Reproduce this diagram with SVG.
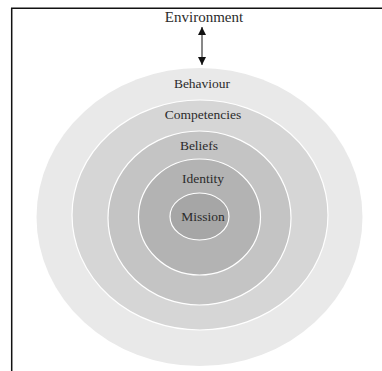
<svg xmlns="http://www.w3.org/2000/svg" width="382" height="371" viewBox="0 0 382 371">
<style>
.lbl{font-family:"Liberation Serif","Times New Roman",serif;font-size:13.5px;fill:#2b2b2b;text-anchor:middle}
.ring{stroke:#ffffff;stroke-width:1.2}
</style>
<defs>
<marker id="ah" viewBox="0 0 10 10" refX="10" refY="5" markerWidth="8" markerHeight="8" markerUnits="userSpaceOnUse" orient="auto-start-reverse">
<path d="M0,0 L10,5 L0,10 z" fill="#111"/>
</marker>
</defs>
<rect width="382" height="371" fill="#ffffff"/>
<path d="M11.7,371 V8.2 H382" fill="none" stroke="#111" stroke-width="1.5"/>
<g id="behaviour">
<ellipse cx="199.5" cy="217" rx="163" ry="149" fill="#e9e9e9"/>
<text class="lbl" x="202" y="88">Behaviour</text>
</g>
<g id="competencies">
<ellipse class="ring" cx="200" cy="215" rx="128" ry="115" fill="#d6d6d6"/>
<text class="lbl" x="203" y="119">Competencies</text>
</g>
<g id="beliefs">
<ellipse class="ring" cx="199.5" cy="218" rx="91.5" ry="87" fill="#c4c4c4"/>
<text class="lbl" x="199" y="150">Beliefs</text>
</g>
<g id="identity">
<ellipse class="ring" cx="199.5" cy="217" rx="61" ry="58" fill="#b3b3b3"/>
<text class="lbl" x="203" y="183">Identity</text>
</g>
<g id="mission">
<ellipse class="ring" cx="199.5" cy="216.5" rx="29.5" ry="23.5" fill="#a6a6a6"/>
<text class="lbl" x="203" y="221">Mission</text>
</g>
<g id="environment">
<text class="lbl" x="204" y="22" style="font-size:15px">Environment</text>
</g>
<g id="connectors">
<line x1="202" y1="27" x2="202" y2="65" stroke="#111" stroke-width="1" marker-start="url(#ah)" marker-end="url(#ah)"/>
</g>
</svg>
